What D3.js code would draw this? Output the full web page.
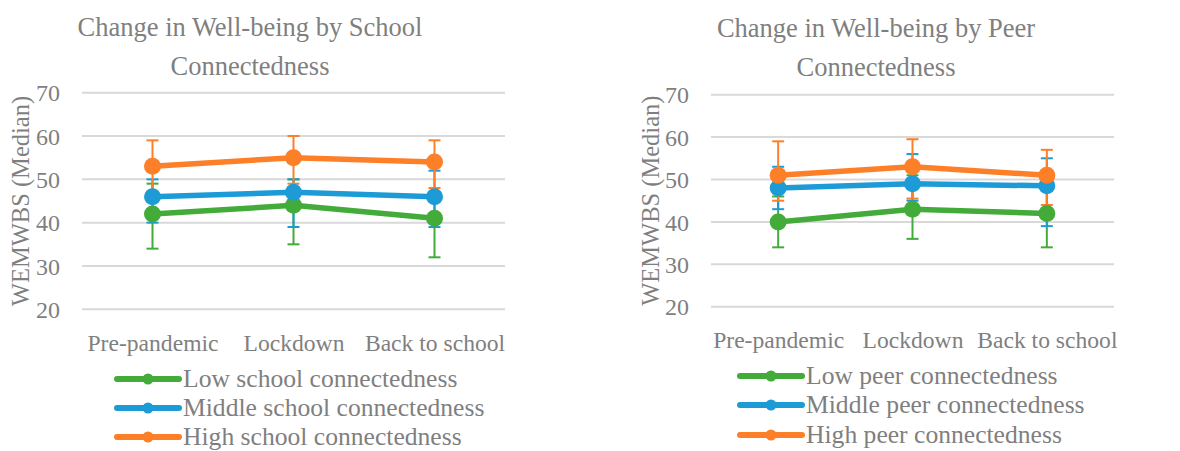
<!DOCTYPE html>
<html>
<head>
<meta charset="utf-8">
<script src="https://cdn.jsdelivr.net/npm/d3@7"></script>
<style>
  html, body { margin: 0; padding: 0; background: #fff; }
  svg text { font-family: "Liberation Serif", "Times New Roman", serif; fill: #7f7f7f; }
</style>
</head>
<body>
<svg id="chart" width="1180" height="451"></svg>
<script>
// Time points on the x axis
const categories = ["Pre-pandemic", "Lockdown", "Back to school"];
const yTicks = [20, 30, 40, 50, 60, 70];

// School connectedness: medians with lower / upper error-bar ends
const schoolLow      = [42, 44, 41];
const schoolLowMin   = [34, 35, 32];
const schoolLowMax   = [49, 50, 47];
const schoolMid      = [46, 47, 46];
const schoolMidMin   = [40, 39, 39];
const schoolMidMax   = [50, 50, 52];
const schoolHigh     = [53, 55, 54];
const schoolHighMin  = [47, 49, 48];
const schoolHighMax  = [59, 60, 59];

// Peer connectedness: medians with lower / upper error-bar ends
const peerLow      = [40, 43, 42];
const peerLowMin   = [34, 36, 34];
const peerLowMax   = [46, 51, 48];
const peerMid      = [48, 49, 48.5];
const peerMidMin   = [43, 45, 39];
const peerMidMax   = [53, 56, 55];
const peerHigh     = [51, 53, 51];
const peerHighMin  = [45, 45.5, 44];
const peerHighMax  = [59, 59.5, 57];

const colors = { low: "#43ab3a", mid: "#1c9bd7", high: "#fd7f28" };

const panels = [
  {
    title: ["Change in Well-being by School", "Connectedness"],
    titleX: 250, titleY: [36, 75],
    x0: 82, x1: 505, yTop: 92.7, yBottom: 309.3,
    tickX: 60, yLabelX: 29, xLabelY: 351,
    legendX: 117, legendY: [379, 408, 437],
    series: [
      { name: "Low school connectedness", color: colors.low, v: schoolLow, lo: schoolLowMin, hi: schoolLowMax },
      { name: "Middle school connectedness", color: colors.mid, v: schoolMid, lo: schoolMidMin, hi: schoolMidMax },
      { name: "High school connectedness", color: colors.high, v: schoolHigh, lo: schoolHighMin, hi: schoolHighMax }
    ]
  },
  {
    title: ["Change in Well-being by Peer", "Connectedness"],
    titleX: 876, titleY: [37, 76],
    x0: 711, x1: 1114, yTop: 94.7, yBottom: 306.7,
    tickX: 689, yLabelX: 659, xLabelY: 348,
    legendX: 740, legendY: [376, 405, 435],
    series: [
      { name: "Low peer connectedness", color: colors.low, v: peerLow, lo: peerLowMin, hi: peerLowMax },
      { name: "Middle peer connectedness", color: colors.mid, v: peerMid, lo: peerMidMin, hi: peerMidMax },
      { name: "High peer connectedness", color: colors.high, v: peerHigh, lo: peerHighMin, hi: peerHighMax }
    ]
  }
];

const svg = d3.select("#chart");

panels.forEach(p => {
  const g = svg.append("g");
  const x = d3.scalePoint().domain(categories).range([p.x0, p.x1]).padding(0.5);
  const y = d3.scaleLinear().domain([20, 70]).range([p.yBottom, p.yTop]);

  // Title (two lines)
  g.append("text")
    .attr("text-anchor", "middle")
    .style("font-size", "26.5px")
    .selectAll("tspan")
    .data(p.title)
    .join("tspan")
    .attr("x", p.titleX)
    .attr("y", (d, i) => p.titleY[i])
    .text(d => d);

  // Horizontal gridlines
  g.append("g")
    .selectAll("line")
    .data(yTicks)
    .join("line")
    .attr("x1", p.x0).attr("x2", p.x1)
    .attr("y1", d => y(d)).attr("y2", d => y(d))
    .attr("stroke", "#d9d9d9")
    .attr("stroke-width", 2);

  // Y axis tick labels
  const yAxis = d3.axisLeft(y).tickValues(yTicks).tickSize(0).tickPadding(0);
  const ya = g.append("g").attr("transform", `translate(${p.tickX},0)`).call(yAxis);
  ya.attr("font-family", null);
  ya.select(".domain").remove();
  ya.selectAll("text")
    .attr("dy", "0.34em")
    .style("font-size", "24px")
    .attr("fill", "#7f7f7f");

  // Y axis title
  g.append("text")
    .attr("transform", `translate(${p.yLabelX},${(p.yTop + p.yBottom) / 2}) rotate(-90)`)
    .attr("text-anchor", "middle")
    .style("font-size", "24.5px")
    .text("WEMWBS (Median)");

  // X axis category labels
  const xAxis = d3.axisBottom(x).tickSize(0).tickPadding(0);
  const xa = g.append("g").attr("transform", `translate(0,${p.xLabelY})`).call(xAxis);
  xa.attr("font-family", null);
  xa.select(".domain").remove();
  xa.selectAll("text")
    .attr("y", 0)
    .attr("dy", 0)
    .style("font-size", "23.6px")
    .attr("fill", "#7f7f7f");

  // Error bars
  const capHalf = 6;
  p.series.forEach(s => {
    const eb = g.append("g").attr("stroke", s.color).attr("stroke-width", 2);
    categories.forEach((c, i) => {
      const cx = x(c);
      eb.append("line").attr("x1", cx).attr("x2", cx).attr("y1", y(s.lo[i])).attr("y2", y(s.hi[i]));
      eb.append("line").attr("x1", cx - capHalf).attr("x2", cx + capHalf).attr("y1", y(s.lo[i])).attr("y2", y(s.lo[i]));
      eb.append("line").attr("x1", cx - capHalf).attr("x2", cx + capHalf).attr("y1", y(s.hi[i])).attr("y2", y(s.hi[i]));
    });
  });

  // Lines and markers
  const line = d3.line().x((d, i) => x(categories[i])).y(d => y(d));
  p.series.forEach(s => {
    g.append("path")
      .datum(s.v)
      .attr("d", line)
      .attr("fill", "none")
      .attr("stroke", s.color)
      .attr("stroke-width", 5.5)
      .attr("stroke-linejoin", "round");
    g.append("g")
      .selectAll("circle")
      .data(s.v)
      .join("circle")
      .attr("cx", (d, i) => x(categories[i]))
      .attr("cy", d => y(d))
      .attr("r", 8.5)
      .attr("fill", s.color);
  });

  // Legend
  const lg = g.append("g");
  p.series.forEach((s, i) => {
    const ly = p.legendY[i];
    lg.append("line")
      .attr("x1", p.legendX).attr("x2", p.legendX + 62)
      .attr("y1", ly).attr("y2", ly)
      .attr("stroke", s.color).attr("stroke-width", 6)
      .attr("stroke-linecap", "round");
    lg.append("circle")
      .attr("cx", p.legendX + 31).attr("cy", ly).attr("r", 5.5)
      .attr("fill", s.color);
    lg.append("text")
      .attr("x", p.legendX + 66)
      .attr("y", ly + 8)
      .style("font-size", "25.6px")
      .text(s.name);
  });
});
</script>
</body>
</html>
